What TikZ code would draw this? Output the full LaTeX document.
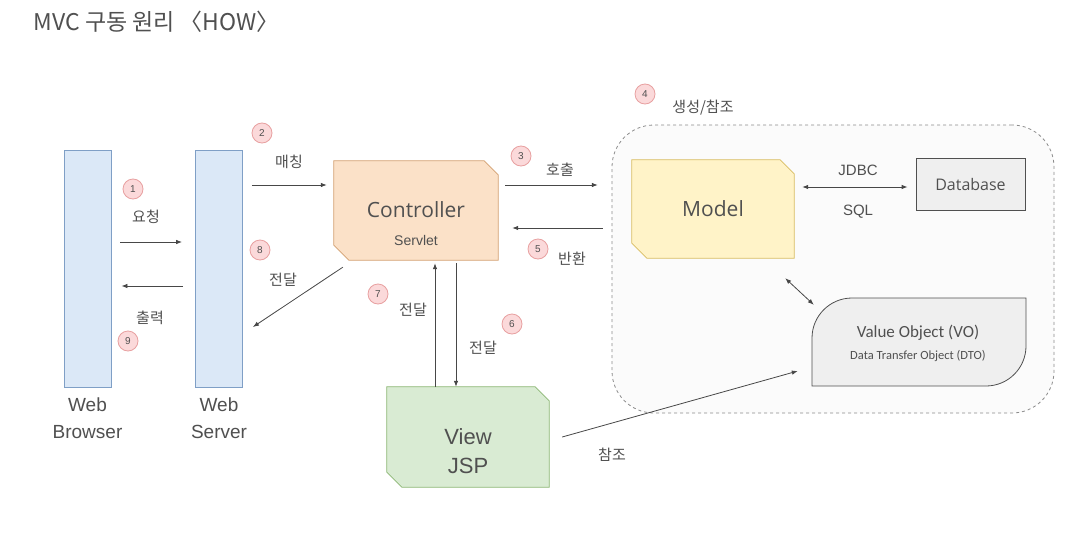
\documentclass[tikz,border=0pt]{standalone}
\usepackage{fontspec}
\setmainfont{Liberation Sans}
\newfontfamily\kr{Noto Sans CJK KR}
\newfontfamily\opensans{Open Sans}
\newfontfamily\carlito{Carlito}
\usetikzlibrary{positioning,calc,arrows.meta}

\definecolor{txtgray}{HTML}{505050}
\definecolor{barfill}{HTML}{DBE8F7}
\definecolor{barline}{HTML}{7F9FC6}
\definecolor{ctrlfill}{HTML}{FBE1C8}
\definecolor{ctrlline}{HTML}{D3A070}
\definecolor{modelfill}{HTML}{FFF3C8}
\definecolor{modelline}{HTML}{D8BC60}
\definecolor{viewfill}{HTML}{D9EBD3}
\definecolor{viewline}{HTML}{8BB673}
\definecolor{boxfill}{HTML}{EFEFEF}
\definecolor{numfill}{HTML}{FBD9DA}
\definecolor{numline}{HTML}{E8A0A0}

% box with cut top-right and bottom-left corners, drawn round node #1
\newcommand{\cutframe}[3]{%
  \draw[line width=0.8pt, draw=#2, fill=#3] (#1.north west)
    -- ($(#1.north east)+(-14,0)$) -- ($(#1.north east)+(0,14)$)
    -- (#1.south east) -- ($(#1.south west)+(15,0)$)
    -- ($(#1.south west)+(0,-15)$) -- cycle;}

\tikzset{
  bar/.style={draw=barline, fill=barfill, line width=0.8pt,
    minimum width=47pt, minimum height=237pt, inner sep=0pt},
  frame/.style={inner sep=0pt},
  plainbox/.style={draw=txtgray, fill=boxfill, line width=0.8pt,
    text=txtgray, inner sep=0pt},
  numcirc/.style={circle, draw=numline, fill=numfill, line width=0.8pt,
    minimum size=20pt, inner sep=0pt, text=txtgray,
    font=\fontsize{10}{10}\selectfont},
  lbl/.style={text=txtgray, font=\kr\fontsize{15}{15}\selectfont},
  conn/.style={draw=black!72, line width=0.8pt,
    -{Latex[length=6pt,width=4.5pt]}},
  dconn/.style={conn, {Latex[length=6pt,width=4.5pt]}-{Latex[length=6pt,width=4.5pt]}},
}

\begin{document}
\begin{tikzpicture}[x=1pt,y=-1pt]
\useasboundingbox[fill=white] (0,0) rectangle (1083,535);

% title
\node[anchor=west, text=txtgray, font=\kr\fontsize{23}{23}\selectfont] (title)
  at (30,22) {MVC 구동 원리 〈HOW〉};

% model area
\node[draw=black!45, dashed, fill=black!1.5, rounded corners=42pt, line width=0.8pt,
  minimum width=442pt, minimum height=288pt] (area) at (833,269) {};

% web browser / web server
\node[bar] (wb) at (87.5,268.5) {};
\node[bar] (ws) at (219,268.5) {};
\node[text=txtgray, align=center, font=\fontsize{19}{27}\selectfont, below=7pt of wb]
  (wblbl) {Web\\Browser};
\node[text=txtgray, align=center, font=\fontsize{19}{27}\selectfont, below=7pt of ws]
  (wslbl) {Web\\Server};

% controller, model, view
\node[frame, minimum width=164pt, minimum height=99pt] (ctrl) at (416,210.5) {};
\cutframe{ctrl}{ctrlline}{ctrlfill}
\node[text=txtgray, font=\opensans\fontsize{21}{21}\selectfont] (ctrltxt)
  at (416,210) {Controller};
\node[text=txtgray, font=\fontsize{14}{14}\selectfont] (servlet)
  at (416,240) {Servlet};

\node[frame, minimum width=162pt, minimum height=98pt] (model) at (713,209) {};
\cutframe{model}{modelline}{modelfill}
\node[text=txtgray, font=\opensans\fontsize{21}{21}\selectfont] (modeltxt)
  at (model) {Model};

\node[frame, minimum width=162pt, minimum height=100pt] (view) at (468,437) {};
\cutframe{view}{viewline}{viewfill}
\node[text=txtgray, align=center, font=\fontsize{22}{29}\selectfont] (viewtxt)
  at (468,451) {View\\JSP};

% database
\node[plainbox, minimum width=109pt, minimum height=52pt,
  font=\opensans\fontsize{16}{16}\selectfont] (db) at (970.5,184) {Database};

% value object
\draw[draw=txtgray, fill=boxfill, line width=0.8pt]
  (812,386) -- (812,340) [rounded corners=40pt] -- (812,298) [sharp corners]
  -- (1026,298) -- (1026,344) [rounded corners=40pt] -- (1026,386) [sharp corners]
  -- cycle;
\node[frame, minimum width=214pt, minimum height=88pt] (vo) at (919,342) {};
\node[text=txtgray, font=\carlito\fontsize{17}{17}\selectfont] (votxt)
  at (918,333) {Value Object (VO)};
\node[text=txtgray, font=\carlito\fontsize{12.5}{12.5}\selectfont] (dtotxt)
  at (918,356) {Data Transfer Object (DTO)};

% connectors
\draw[conn] ($(wb.east)+(9,-26.5)$) -- ($(ws.west)+(-13,-26.5)$);
\draw[conn] ($(ws.west)+(-12,17.5)$) -- ($(wb.east)+(10,17.5)$);
\draw[conn] ($(ws.east)+(9,-83.5)$) -- ($(ctrl.west)+(-7,-25.5)$);
\draw[conn] ($(ctrl.south west)+(9,7)$) -- ($(ws.east)+(10,58.5)$);
\draw[conn] ($(ctrl.east)+(7,-25.5)$) -- ($(model.west)+(-34,-24)$);
\draw[conn] ($(model.west)+(-29,19)$) -- ($(ctrl.east)+(14,17.5)$);
\draw[dconn] ($(model.east)+(8,-22)$) -- ($(db.west)+(-8,3)$);
\draw[dconn] ($(model.south east)+(-9,20)$) -- ($(vo.north west)+(2,7)$);
\draw[conn] ($(view.north)+(-33,0)$) -- ($(ctrl.south)+(19,3)$);
\draw[conn] ($(ctrl.south)+(40,3)$) -- ($(view.north)+(-12,0)$);
\draw[conn] ($(view.east)+(13,0)$) -- ($(vo.west)+(-14,29)$);

% numbers and labels
\node[numcirc] (n1) at (133,189) {1};
\node[lbl] (l1) at (146,217) {요청};
\node[numcirc] (n2) at (262,133) {2};
\node[lbl] (l2) at (289,162) {매칭};
\node[numcirc] (n3) at (521,156) {3};
\node[lbl] (l3) at (560,170) {호출};
\node[numcirc] (n4) at (645,94) {4};
\node[lbl] (l4) at (703,108) {생성/참조};
\node[numcirc] (n5) at (538,249) {5};
\node[lbl] (l5) at (572,259) {반환};
\node[numcirc] (n6) at (512,324) {6};
\node[lbl] (l6) at (483,348) {전달};
\node[numcirc] (n7) at (378,294) {7};
\node[lbl] (l7) at (413,310) {전달};
\node[numcirc] (n8) at (260,250) {8};
\node[lbl] (l8) at (283,280) {전달};
\node[numcirc] (n9) at (128,341) {9};
\node[lbl] (l9) at (150,318) {출력};
\node[lbl] (lref) at (612,455) {참조};
\node[text=txtgray, font=\fontsize{15}{15}\selectfont] (jdbc) at (858,170) {JDBC};
\node[text=txtgray, font=\fontsize{15}{15}\selectfont] (sql) at (858,212) {SQL};

\end{tikzpicture}
\end{document}
